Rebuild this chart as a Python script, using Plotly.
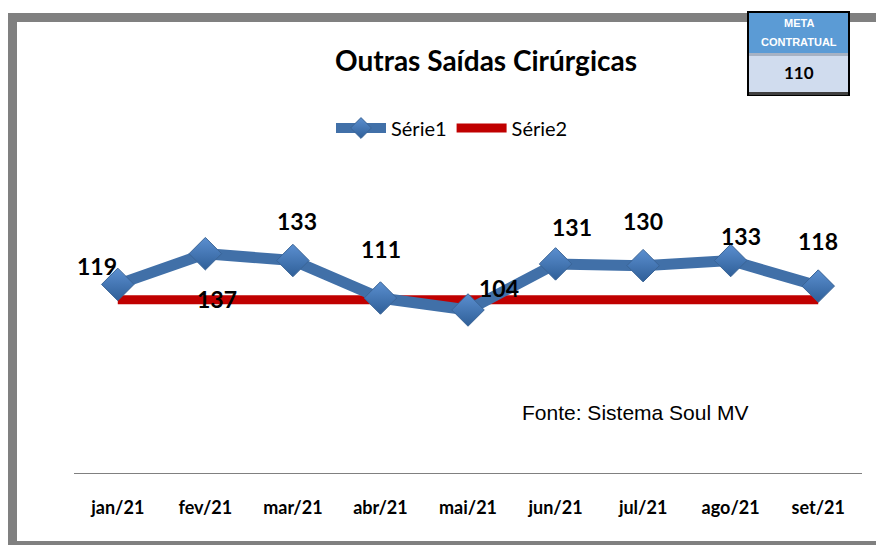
import plotly.graph_objects as go

# ---- data ----
months = ["jan/21", "fev/21", "mar/21", "abr/21", "mai/21", "jun/21", "jul/21", "ago/21", "set/21"]
serie1 = [119, 137, 133, 111, 104, 131, 130, 133, 118]
meta_value = 110
serie2 = [meta_value] * len(months)

title_text = "Outras Saídas Cirúrgicas"
source_text = "Fonte: Sistema Soul MV"

# label offsets in pixels (dx, dy up)
label_offsets = [(-21, 18), (12, -45), (4, 40), (1, 49), (31, 22), (16, 37), (0, 45), (10, 25), (0, 45)]

W, H = 876, 545
L, R, T, B = 74, 14, 150, 72
PW, PH = W - L - R, H - T - B


def px(x):
    return (x - L) / PW


def py(y):
    return (H - B - y) / PH


fig = go.Figure()
fig.add_trace(go.Scatter(
    x=months, y=serie2, mode="lines", name="Série2",
    line=dict(color="#C00000", width=9),
))
fig.add_trace(go.Scatter(
    x=months, y=serie1, mode="lines+markers", name="Série1",
    line=dict(color="#4170A8", width=11),
    marker=dict(symbol="diamond", size=25, color="#5B8FD0",
                gradient=dict(type="vertical", color="#2F5F98"),
                line=dict(color="#3A6496", width=1)),
))

annotations = []
for m, v, (dx, dy) in zip(months, serie1, label_offsets):
    annotations.append(dict(
        x=m, y=v, xref="x", yref="y", text="<b>" + str(v) + "</b>", showarrow=False,
        xshift=dx, yshift=dy, xanchor="center", yanchor="middle",
        font=dict(family="Lato", size=23, color="black"),
    ))


def paper_text(x, y, text, family, size, color="black"):
    return dict(x=px(x), y=py(y), xref="paper", yref="paper", text=text,
                showarrow=False, xanchor="center", yanchor="middle",
                font=dict(family=family, size=size, color=color))


annotations.append(paper_text(486, 60, "<b>" + title_text + "</b>", "Lato", 28))
annotations.append(paper_text(635, 412, source_text, "Liberation Sans", 21))
annotations.append(paper_text(798.5, 23, "<b>META</b>", "Liberation Sans", 11, "white"))
annotations.append(paper_text(798.5, 42, "<b>CONTRATUAL</b>", "Liberation Sans", 11, "white"))
annotations.append(paper_text(798.5, 73, "<b>" + str(meta_value) + "</b>", "Lato", 17))

shapes = [
    # frame
    dict(type="rect", xref="paper", yref="paper", x0=px(8), x1=px(880), y0=py(22), y1=py(13),
         fillcolor="#808080", line=dict(width=0), layer="below"),
    dict(type="rect", xref="paper", yref="paper", x0=px(8), x1=px(17), y0=py(550), y1=py(13),
         fillcolor="#808080", line=dict(width=0), layer="below"),
    dict(type="rect", xref="paper", yref="paper", x0=px(8), x1=px(880), y0=py(550), y1=py(541),
         fillcolor="#808080", line=dict(width=0), layer="below"),
    # meta box
    dict(type="rect", xref="paper", yref="paper", x0=px(748), x1=px(849), y0=py(95), y1=py(12),
         fillcolor="#D0DCEE", line=dict(color="black", width=2)),
    dict(type="rect", xref="paper", yref="paper", x0=px(749), x1=px(848), y0=py(53), y1=py(13),
         fillcolor="#5B9BD5", line=dict(width=0)),
    dict(type="rect", xref="paper", yref="paper", x0=px(749), x1=px(848), y0=py(56), y1=py(53),
         fillcolor="#A6B2C4", line=dict(width=0)),
    dict(type="rect", xref="paper", yref="paper", x0=px(749), x1=px(848), y0=py(95), y1=py(92),
         fillcolor="#404040", line=dict(width=0)),
]

fig.update_layout(
    width=W, height=H,
    margin=dict(l=L, r=R, t=T, b=B),
    paper_bgcolor="white", plot_bgcolor="white",
    showlegend=True,
    legend=dict(orientation="h", x=px(452), y=py(128), xanchor="center", yanchor="middle",
                traceorder="reversed", itemwidth=50,
                font=dict(family="Lato", size=20, color="black"), bgcolor="rgba(0,0,0,0)"),
    xaxis=dict(type="category", range=[-0.5, 8.5], showgrid=False, zeroline=False,
               showline=True, linecolor="#808080", linewidth=1, ticks="",
               tickfont=dict(family="Lato", size=18, color="black"),
               ticklabelstandoff=18),
    yaxis=dict(range=[8.4, 197.8], visible=False),
    annotations=annotations,
    shapes=shapes,
)
fig.update_xaxes(tickvals=months, ticktext=["<b>" + m + "</b>" for m in months])

fig.write_html("out.html", config={"displayModeBar": False},
               post_script="document.body.style.margin='0';document.body.style.overflow='hidden';")
